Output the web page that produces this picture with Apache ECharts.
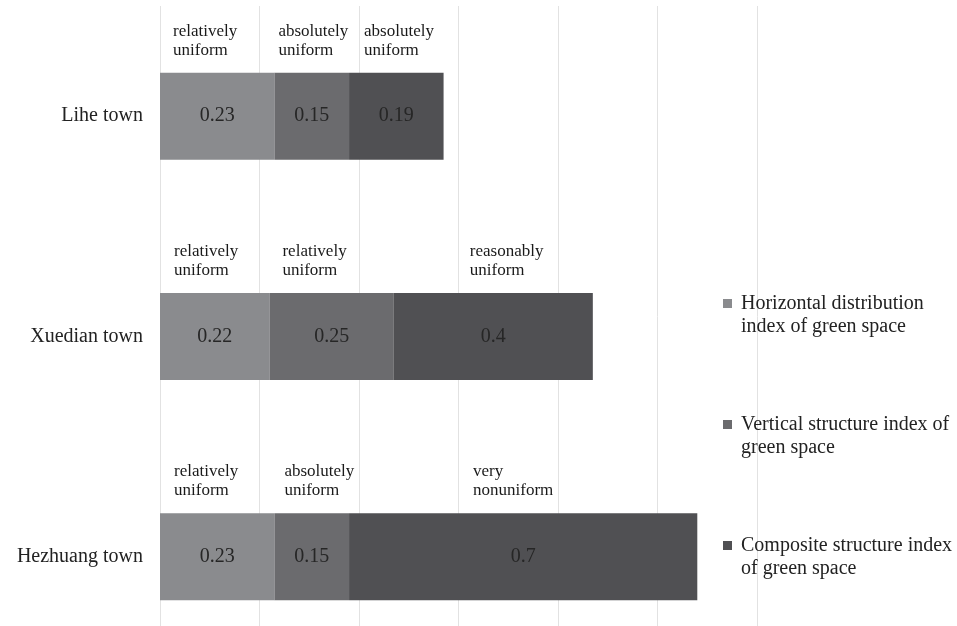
<!DOCTYPE html>
<html>
<head>
<meta charset="utf-8">
<script src="https://cdn.jsdelivr.net/npm/echarts@6/dist/echarts.min.js"></script>
<style>html,body{margin:0;padding:0;background:#fff;}#chart{width:957px;height:626px;}</style>
</head>
<body>
<div id="chart"></div>
<script>
const categories = ['Lihe town', 'Xuedian town', 'Hezhuang town'];
const seriesNames = [
  'Horizontal distribution\nindex of green space',
  'Vertical structure index of\ngreen space',
  'Composite structure index\nof green space'
];
const horizontalValues = [0.23, 0.22, 0.23];
const verticalValues = [0.15, 0.25, 0.15];
const compositeValues = [0.19, 0.4, 0.7];
const horizontalNotes = ['relatively\nuniform', 'relatively\nuniform', 'relatively\nuniform'];
const verticalNotes = ['absolutely\nuniform', 'relatively\nuniform', 'absolutely\nuniform'];
const compositeNotes = ['absolutely\nuniform', 'reasonably\nuniform', 'very\nnonuniform'];
const xTicks = [0, 0.2, 0.4, 0.6, 0.8, 1.0, 1.2];

const FONT = '"Liberation Serif", "Times New Roman", serif';
const colors = ['#8a8b8e', '#6b6b6e', '#505053'];
const valueSets = [horizontalValues, verticalValues, compositeValues];
const noteSets = [horizontalNotes, verticalNotes, compositeNotes];
// layout: horizontal offset of each note from the left edge of its segment (px)
const noteOffsets = [[13, 14, 14], [4, 13, 10], [15, 76, 124]];

const series = [];
valueSets.forEach((vals, i) => {
  series.push({
    name: seriesNames[i],
    type: 'bar',
    stack: 'total',
    barWidth: 87,
    barGap: '-100%',
    itemStyle: { color: colors[i] },
    label: {
      show: true, position: 'inside',
      fontFamily: FONT, fontSize: 20, color: '#262626',
      formatter: p => String(p.value)
    },
    data: vals
  });
});
valueSets.forEach((vals, i) => {
  series.push({
    name: 'note' + i,
    type: 'bar',
    stack: 'notes',
    barWidth: 87,
    barGap: '-100%',
    silent: true,
    z: 1,
    itemStyle: { color: 'transparent' },
    data: vals.map((v, j) => ({
      value: v,
      label: {
        show: true,
        position: [noteOffsets[i][j], -51],
        align: 'left', verticalAlign: 'top',
        fontFamily: FONT, fontSize: 17, lineHeight: 19, color: '#1a1a1a',
        formatter: () => noteSets[i][j]
      }
    }))
  });
});

const chart = echarts.init(document.getElementById('chart'), null, { renderer: 'canvas' });
chart.setOption({
  animation: false,
  backgroundColor: '#ffffff',
  grid: { left: 160, top: 6, width: 597, height: 661, containLabel: false, outerBoundsMode: 'none' },
  xAxis: {
    type: 'value', min: xTicks[0], max: xTicks[xTicks.length - 1], interval: 0.2,
    axisLine: { show: false }, axisTick: { show: false }, axisLabel: { show: false },
    splitLine: { show: true, lineStyle: { color: '#e2e2e2', width: 1 } }
  },
  yAxis: {
    type: 'category', data: categories, inverse: true,
    axisLine: { show: false }, axisTick: { show: false },
    axisLabel: { fontFamily: FONT, fontSize: 20, color: '#222', margin: 17 }
  },
  legend: {
    orient: 'vertical', left: 723, top: 292, padding: 0,
    itemGap: 75, itemWidth: 9, itemHeight: 32,
    icon: 'path://M0,0h9v9h-9zM0,32h9',
    data: seriesNames,
    textStyle: { fontFamily: FONT, fontSize: 20, lineHeight: 23, color: '#222', padding: [0, 0, 0, 4] }
  },
  series: series
});
</script>
</body>
</html>
